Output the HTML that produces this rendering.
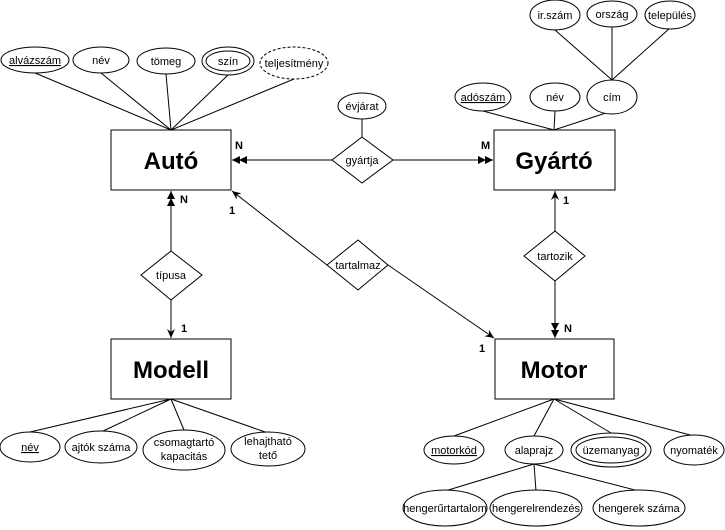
<!DOCTYPE html>
<html><head><meta charset="utf-8"><style>
html,body{margin:0;padding:0;background:#fff;}
svg{display:block;}
text{font-family:"Liberation Sans",Arial,sans-serif;fill:#000;}
.s{font-size:11px;}
.b{font-size:24px;font-weight:bold;}
.l{font-size:11px;font-weight:bold;}
</style></head><body>
<svg width="725" height="530" viewBox="0 0 725 530" xmlns="http://www.w3.org/2000/svg">
<defs>
<marker id="a" markerWidth="10" markerHeight="10" refX="9" refY="5" orient="auto" markerUnits="userSpaceOnUse"><path d="M0,1 L9,5 L0,9 L3,5 Z" fill="#000"/></marker>
<marker id="aa" markerWidth="16" markerHeight="10" refX="15" refY="5" orient="auto" markerUnits="userSpaceOnUse"><path d="M0,1 L8,5 L0,9 Z M7,1 L15,5 L7,9 Z" fill="#000"/></marker>
</defs>
<g stroke="#000" stroke-width="1" fill="none">
<line x1="35" y1="73" x2="171" y2="130"/>
<line x1="101" y1="73" x2="171" y2="130"/>
<line x1="166" y1="74" x2="171" y2="130"/>
<line x1="228" y1="75" x2="171" y2="130"/>
<line x1="294" y1="79" x2="171" y2="130"/>
<line x1="483" y1="111" x2="554" y2="130"/>
<line x1="555" y1="111" x2="554" y2="130"/>
<line x1="612" y1="111" x2="554" y2="130"/>
<line x1="555" y1="30" x2="612" y2="80"/>
<line x1="612" y1="27" x2="612" y2="80"/>
<line x1="670" y1="28" x2="612" y2="80"/>
<line x1="362" y1="119" x2="362" y2="137"/>
<line x1="332" y1="160" x2="232" y2="160" marker-end="url(#aa)"/>
<line x1="393" y1="160" x2="493" y2="160" marker-end="url(#aa)"/>
<line x1="171" y1="251" x2="171" y2="191" marker-end="url(#aa)"/>
<line x1="171" y1="300" x2="171" y2="338" marker-end="url(#a)"/>
<line x1="327" y1="265" x2="232" y2="191" marker-end="url(#a)"/>
<line x1="388" y1="265" x2="494" y2="338" marker-end="url(#a)"/>
<line x1="555" y1="231" x2="555" y2="191" marker-end="url(#a)"/>
<line x1="555" y1="281" x2="555" y2="338" marker-end="url(#aa)"/>
<line x1="171" y1="399" x2="30" y2="432"/>
<line x1="171" y1="399" x2="101" y2="432"/>
<line x1="171" y1="399" x2="184" y2="430"/>
<line x1="171" y1="399" x2="268" y2="433"/>
<line x1="554" y1="399" x2="454" y2="436"/>
<line x1="554" y1="399" x2="534" y2="436"/>
<line x1="554" y1="399" x2="611" y2="433"/>
<line x1="554" y1="399" x2="694" y2="436"/>
<line x1="534" y1="464" x2="445" y2="491"/>
<line x1="534" y1="464" x2="536" y2="491"/>
<line x1="534" y1="464" x2="639" y2="491"/>
</g>
<g stroke="#000" stroke-width="1" fill="#fff">
<rect x="111" y="130" width="120" height="60"/>
<rect x="494" y="130" width="121" height="60"/>
<rect x="111" y="339" width="120" height="60"/>
<rect x="495" y="339" width="119" height="60"/>
<ellipse cx="35" cy="60" rx="34" ry="13"/>
<ellipse cx="101" cy="60" rx="28" ry="13"/>
<ellipse cx="166" cy="61" rx="29" ry="13"/>
<ellipse cx="228" cy="61" rx="26" ry="14"/>
<ellipse cx="228" cy="61" rx="22" ry="10"/>
<ellipse cx="294" cy="63" rx="34" ry="16" stroke-dasharray="3,2"/>
<ellipse cx="362" cy="106" rx="24" ry="13"/>
<polygon points="362,137 393,160 362,183 332,160"/>
<ellipse cx="483" cy="97" rx="28" ry="14"/>
<ellipse cx="555" cy="97" rx="25" ry="14"/>
<ellipse cx="612" cy="97" rx="25" ry="17"/>
<ellipse cx="555" cy="15" rx="25" ry="15"/>
<ellipse cx="612" cy="14" rx="25" ry="13"/>
<ellipse cx="670" cy="15" rx="25" ry="14"/>
<polygon points="171,251 202,275 171,300 141,275"/>
<polygon points="358,240 388,265 358,290 327,265"/>
<polygon points="555,231 585,256 555,281 524,256"/>
<ellipse cx="30" cy="447" rx="30" ry="15"/>
<ellipse cx="101" cy="447" rx="36" ry="16"/>
<ellipse cx="184" cy="450" rx="41" ry="20"/>
<ellipse cx="268" cy="449" rx="37" ry="17"/>
<ellipse cx="454" cy="450" rx="30" ry="14"/>
<ellipse cx="534" cy="450" rx="29" ry="14"/>
<ellipse cx="611" cy="450" rx="40" ry="17"/>
<ellipse cx="611" cy="450" rx="35" ry="13"/>
<ellipse cx="694" cy="450" rx="30" ry="15"/>
<ellipse cx="445" cy="508" rx="42" ry="18"/>
<ellipse cx="536" cy="508" rx="46" ry="18"/>
<ellipse cx="639" cy="508" rx="46" ry="18"/>
</g>
<g text-anchor="middle">
<text class="b" x="171" y="169">Autó</text>
<text class="b" x="554" y="169">Gyártó</text>
<text class="b" x="171" y="378">Modell</text>
<text class="b" x="554" y="378">Motor</text>
<text class="s" x="35" y="64" text-decoration="underline">alvázszám</text>
<text class="s" x="101" y="64">név</text>
<text class="s" x="166" y="65">tömeg</text>
<text class="s" x="228" y="65">szín</text>
<text class="s" x="294" y="67">teljesítmény</text>
<text class="s" x="362" y="110">évjárat</text>
<text class="s" x="362" y="164">gyártja</text>
<text class="s" x="483" y="101" text-decoration="underline">adószám</text>
<text class="s" x="555" y="101">név</text>
<text class="s" x="612" y="101">cím</text>
<text class="s" x="555" y="19">ir.szám</text>
<text class="s" x="612" y="18">ország</text>
<text class="s" x="670" y="19">település</text>
<text class="s" x="171" y="279">típusa</text>
<text class="s" x="358" y="269">tartalmaz</text>
<text class="s" x="555" y="260">tartozik</text>
<text class="s" x="30" y="451" text-decoration="underline">név</text>
<text class="s" x="101" y="451">ajtók száma</text>
<text class="s" x="184" y="446">csomagtartó</text>
<text class="s" x="184" y="460">kapacitás</text>
<text class="s" x="268" y="445">lehajtható</text>
<text class="s" x="268" y="459">tető</text>
<text class="s" x="454" y="454" text-decoration="underline">motorkód</text>
<text class="s" x="534" y="454">alaprajz</text>
<text class="s" x="611" y="454">üzemanyag</text>
<text class="s" x="694" y="454">nyomaték</text>
<text class="s" x="445" y="512">hengerűrtartalom</text>
<text class="s" x="536" y="512">hengerelrendezés</text>
<text class="s" x="639" y="512">hengerek száma</text>
</g>
<text class="l" x="235" y="149">N</text>
<text class="l" x="481" y="149">M</text>
<text class="l" x="180" y="203">N</text>
<text class="l" x="229" y="214">1</text>
<text class="l" x="181" y="332">1</text>
<text class="l" x="563" y="204">1</text>
<text class="l" x="564" y="332">N</text>
<text class="l" x="479" y="352">1</text>
</svg>
</body></html>
